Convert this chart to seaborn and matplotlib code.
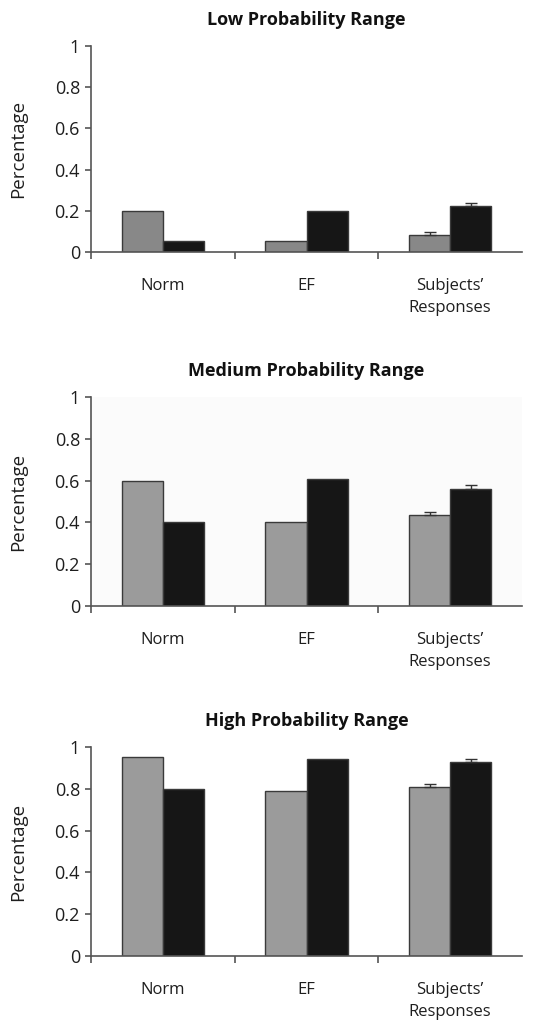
import matplotlib
matplotlib.use("Agg")
import matplotlib.pyplot as plt
import seaborn as sns
import pandas as pd

sns.set_style("white")
plt.rcParams['font.family'] = ['Open Sans', 'DejaVu Sans']

categories = ["Norm", "EF", "Subjects’\nResponses"]
series = ["A", "B"]
titles = ["Low Probability Range", "Medium Probability Range", "High Probability Range"]

low_a = [0.20, 0.055, 0.083]
low_b = [0.055, 0.20, 0.223]
low_err_a = [0.0, 0.0, 0.015]
low_err_b = [0.0, 0.0, 0.016]

med_a = [0.60, 0.40, 0.435]
med_b = [0.40, 0.61, 0.560]
med_err_a = [0.0, 0.0, 0.015]
med_err_b = [0.0, 0.0, 0.017]

high_a = [0.952, 0.790, 0.808]
high_b = [0.800, 0.943, 0.928]
high_err_a = [0.0, 0.0, 0.015]
high_err_b = [0.0, 0.0, 0.016]

yticks = [0, 0.2, 0.4, 0.6, 0.8, 1.0]
ytick_labels = ["0", "0.2", "0.4", "0.6", "0.8", "1"]

panels = [
    (low_a, low_b, low_err_a, low_err_b, "#888888"),
    (med_a, med_b, med_err_a, med_err_b, "#9b9b9b"),
    (high_a, high_b, high_err_a, high_err_b, "#9b9b9b"),
]

fig = plt.figure(figsize=(5.56, 10.23), dpi=100)
left = 91 / 556
width = (522 - 91) / 556
tops = [46, 397, 747]
bottoms = [252, 606, 956]

axis_col = "#555555"
text_col = "#1e1e1e"

for i, (a, b, ea, eb, grey) in enumerate(panels):
    ax = fig.add_axes([left, 1 - bottoms[i] / 1023, width, (bottoms[i] - tops[i]) / 1023])
    df = pd.DataFrame({
        "cat": categories * 2,
        "series": [series[0]] * 3 + [series[1]] * 3,
        "val": a + b,
    })
    sns.barplot(data=df, x="cat", y="val", hue="series", order=categories,
                hue_order=series, palette=[grey, "#161616"], width=0.575,
                edgecolor="#3a3a3a", linewidth=1.0, legend=False, ax=ax, errorbar=None)
    for cont, vals, errs in zip(ax.containers, [a, b], [ea, eb]):
        for patch, v, e in zip(cont.patches, vals, errs):
            if e > 0:
                xc = patch.get_x() + patch.get_width() / 2
                ax.errorbar([xc], [v], yerr=[[0], [e]], fmt="none",
                            ecolor="#333333", elinewidth=1.0, capsize=4, capthick=1.0)
    ax.set_xlim(-0.5, 2.5)
    ax.set_ylim(0, 1)
    ax.set_yticks(yticks)
    ax.set_yticklabels(ytick_labels)
    ax.set_xticks([0, 1, 2])
    ax.set_xticklabels(categories)
    ax.set_xticks([-0.5, 0.5, 1.5], minor=True)
    ax.tick_params(axis="x", which="major", length=0, pad=19, labelsize=12, colors=text_col)
    ax.tick_params(axis="x", which="minor", length=5, width=1.2, color=axis_col, direction="out", bottom=True)
    ax.tick_params(axis="y", which="major", length=4, width=1.2, color=axis_col, direction="out",
                   left=True, pad=4, labelsize=13, labelcolor=text_col)
    for lbl in ax.get_xticklabels():
        lbl.set_linespacing(1.5)
    ax.set_xlabel("")
    ax.set_ylabel("Percentage", fontsize=13.5, color=text_col)
    ax.yaxis.set_label_coords(-0.148, 0.5)
    ax.set_title(titles[i], fontsize=13, fontweight="bold", pad=15, color="#111111")
    sns.despine(ax=ax)
    for s in ["left", "bottom"]:
        ax.spines[s].set_color(axis_col)
        ax.spines[s].set_linewidth(1.2)
    if i == 1:
        ax.set_facecolor("#fbfbfb")

fig.savefig("out.png", dpi=100)
